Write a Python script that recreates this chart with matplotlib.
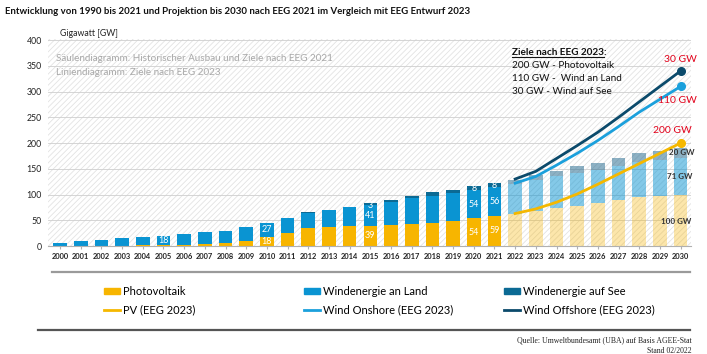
import matplotlib
matplotlib.use("Agg")
import matplotlib.pyplot as plt
import numpy as np
from matplotlib.patches import Patch, Rectangle
from matplotlib.lines import Line2D

plt.rcParams['font.family'] = ['Lato', 'DejaVu Sans']
plt.rcParams['hatch.linewidth'] = 0.6

# ---------------- data ----------------
years_hist = list(range(2000, 2022))
pv_hist = [0.1, 0.2, 0.3, 0.4, 1.1, 2.1, 2.9, 4.2, 6.1, 10.6, 18, 25.9, 34.1, 36.7,
           37.9, 39, 40.7, 42.3, 45.2, 49, 54, 59]
onshore_hist = [6.1, 8.7, 11.9, 14.4, 16.4, 18, 20.5, 22.1, 22.8, 25.6, 27, 28.5, 30.7,
                32.5, 37.6, 41, 45.3, 50.2, 52.3, 53.2, 54, 56]
offshore_hist = [0, 0, 0, 0, 0, 0, 0, 0, 0, 0.04, 0.08, 0.19, 0.27, 0.5, 1.0, 3.3,
                 4.2, 5.4, 6.4, 7.5, 7.8, 7.8]

years_proj = list(range(2022, 2031))
pv_eeg21 = [63, 68, 73, 78, 83, 89, 95, 97.5, 100]
onshore_eeg21 = [57, 59.5, 62, 63.5, 65, 66.5, 68, 69.5, 71]
offshore_eeg21 = [8, 10, 11, 13, 14, 16, 17, 18, 20]

pv_eeg23 = [63, 72, 85, 101, 120, 140, 160, 180, 200]
onshore_eeg23 = [59, 63, 72, 79, 85, 92, 100, 105, 110]
offshore_eeg23 = [8, 10, 13, 15, 16, 18, 20, 25, 30]

label_years = [2005, 2010, 2015, 2020, 2021]

# ---------------- style ----------------
c_pv = '#F7B500'
c_on = '#0A94D2'
c_off = '#0B6A94'
c_pv_l = '#F5B800'
c_on_l = '#1BA0DC'
c_off_l = '#0B4A6B'
red = '#E2001A'

fig = plt.figure(figsize=(7.07, 3.54), dpi=100)
ax = fig.add_axes([48/707, 1-246/354, (691-48)/707, (246-39)/354])
ax.set_xlim(1999.42, 2030.5)
ax.set_ylim(0, 402)

# hatched background
ax.add_patch(Rectangle((0, 0), 1, 1, transform=ax.transAxes, facecolor='white',
                       hatch='//////', edgecolor='#e3e3e3', lw=0, zorder=0))
for v in range(50, 401, 50):
    ax.axhline(v, color='#cfcfcf', lw=0.6, zorder=0.5)

w = 0.66
yh = np.array(years_hist)
pv_h = np.array(pv_hist); on_h = np.array(onshore_hist); off_h = np.array(offshore_hist)
ax.bar(yh, pv_h, w, color=c_pv, zorder=2)
ax.bar(yh, on_h, w, bottom=pv_h, color=c_on, zorder=2)
ax.bar(yh, off_h, w, bottom=pv_h + on_h, color=c_off, zorder=2)

yp = np.array(years_proj)
pv_p = np.array(pv_eeg21); on_p = np.array(onshore_eeg21); off_p = np.array(offshore_eeg21)
ax.bar(yp, pv_p, w, color=c_pv, alpha=0.33, zorder=2, lw=0)
ax.bar(yp, on_p, w, bottom=pv_p, color=c_on, alpha=0.5, zorder=2, lw=0)
ax.bar(yp, off_p, w, bottom=pv_p + on_p, color='#2f7194', alpha=0.55, zorder=2, lw=0)

# value labels
for y in label_years:
    i = years_hist.index(y)
    p, o, f = pv_h[i], on_h[i], off_h[i]
    if p >= 15:
        ax.text(y, p / 2, f"{p:.0f}", color='white', ha='center', va='center', fontsize=6.5, zorder=4)
    ax.text(y, p + o / 2, f"{o:.0f}", color='white', ha='center', va='center', fontsize=6.5, zorder=4)
    if f >= 2:
        ax.text(y, p + o + f - 5, f"{f:.0f}", color='white', ha='center', va='center', fontsize=6.5, zorder=4)

# EEG 2023 lines (stacked)
l_pv = np.array(pv_eeg23)
l_on = l_pv + np.array(onshore_eeg23)
l_off = l_on + np.array(offshore_eeg23)
ax.plot(yp, l_pv, color=c_pv_l, lw=2, zorder=5)
ax.plot(yp, l_on, color=c_on_l, lw=2, zorder=5)
ax.plot(yp, l_off, color=c_off_l, lw=2, zorder=5)
for arr, c in [(l_pv, c_pv_l), (l_on, c_on_l), (l_off, c_off_l)]:
    ax.plot([yp[-1]], [arr[-1]], 'o', color=c, ms=5.5, zorder=6)

ax.text(2030, l_off[-1] + 22, "30 GW", color=red, ha='center', va='center', fontsize=7.5, zorder=6)
ax.text(2029.85, l_on[-1] - 28, "110 GW", color=red, ha='center', va='center', fontsize=7.5, zorder=6)
ax.text(2029.6, l_pv[-1] + 24, "200 GW", color=red, ha='center', va='center', fontsize=7.5, zorder=6)

ax.text(2030.05, 182, "20 GW", color='#333333', ha='center', va='center', fontsize=5.8, fontweight='bold', zorder=6)
ax.text(2029.95, 135, "71 GW", color='#333333', ha='center', va='center', fontsize=5.8, fontweight='bold', zorder=6)
ax.text(2029.8, 48, "100 GW", color='#333333', ha='center', va='center', fontsize=5.8, fontweight='bold', zorder=6)

# info box text
ax.text(2021.85, 376, "Ziele nach EEG 2023:", fontsize=7.2, fontweight='bold', color='#111111',
        ha='left', va='center', zorder=6)
ax.plot([2021.85, 2026.3], [368, 368], color='#111111', lw=0.8, zorder=6)
ax.text(2021.85, 351, "200 GW - Photovoltaik", fontsize=7.2, color='#111111', ha='left', va='center', zorder=6)
ax.text(2021.85, 326, "110 GW -  Wind an Land", fontsize=7.2, color='#111111', ha='left', va='center', zorder=6)
ax.text(2021.85, 300, "30 GW - Wind auf See", fontsize=7.2, color='#111111', ha='left', va='center', zorder=6)

ax.text(1999.8, 364, "Säulendiagramm: Historischer Ausbau und Ziele nach EEG 2021", fontsize=7.1,
        color='#a8a8a8', ha='left', va='center', zorder=6)
ax.text(1999.8, 337, "Liniendiagramm: Ziele nach EEG 2023", fontsize=7.1,
        color='#a8a8a8', ha='left', va='center', zorder=6)

ax.text(2000, 413, "Gigawatt [GW]", fontsize=6.3, color='#222222', ha='left', va='center', clip_on=False)

# axes styling
for s in ['top', 'right', 'left']:
    ax.spines[s].set_visible(False)
ax.spines['bottom'].set_color('#b0b0b0')
ax.spines['bottom'].set_linewidth(0.8)
ax.set_xticks(list(range(2000, 2031)))
ax.set_xticklabels([str(y) for y in range(2000, 2031)], fontsize=5.4, fontweight='bold', color='#222222')
ax.tick_params(axis='x', length=2, color='#b0b0b0', pad=3)
ax.set_yticks(list(range(0, 401, 50)))
ax.set_yticklabels([str(v) for v in range(0, 401, 50)], fontsize=6.3, color='#222222')
ax.tick_params(axis='y', length=0, pad=4.5)

# title
fig.text(5/707, 1-12/354, "Entwicklung von 1990 bis 2021 und Projektion bis 2030 nach EEG 2021 im Vergleich mit EEG Entwurf 2023",
         fontsize=6.95, fontweight='bold', color='#111111', ha='left', va='center')

# rules
fig.add_artist(Line2D([52/707, 690/707], [1-272/354]*2, color='#9a9a9a', lw=1.6))
fig.add_artist(Line2D([38/707, 690/707], [1-330/354]*2, color='#555555', lw=1.6))

# legends
cols = [
    (Patch(color=c_pv), "Photovoltaik", Line2D([], [], color=c_pv_l, lw=2), "PV (EEG 2023)"),
    (Patch(color=c_on), "Windenergie an Land", Line2D([], [], color=c_on_l, lw=2), "Wind Onshore (EEG 2023)"),
    (Patch(color=c_off), "Windenergie auf See", Line2D([], [], color=c_off_l, lw=2), "Wind Offshore (EEG 2023)"),
]
for i, (h1, t1, h2, t2) in enumerate(cols):
    fig.legend([h1, h2], [t1, t2], loc='upper left',
               bbox_to_anchor=((96 + 200 * i) / 707, 1 - 278 / 354), frameon=False,
               fontsize=8, handlelength=1.45, handleheight=0.45, handletextpad=0.25,
               labelspacing=0.65, borderpad=0.2)

fig.text(692/707, 1-340/354, "Quelle: Umweltbundesamt (UBA) auf Basis AGEE-Stat", fontsize=5.6,
         family='Liberation Serif', ha='right', va='center', color='#222222')
fig.text(692/707, 1-351/354, "Stand 02/2022", fontsize=5.6,
         family='Liberation Serif', ha='right', va='center', color='#222222')

fig.savefig("out.png", dpi=100)
